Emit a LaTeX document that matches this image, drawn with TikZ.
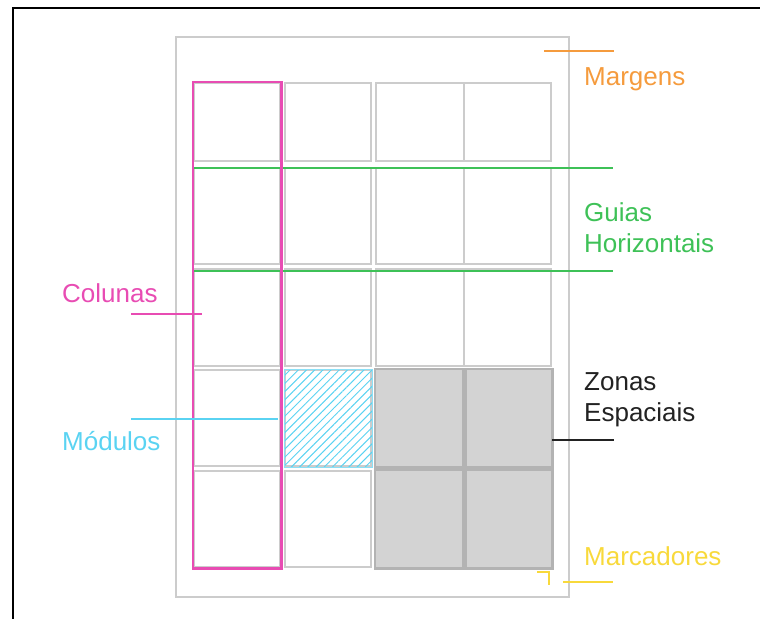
\documentclass[tikz,border=0pt]{standalone}
\usepackage{fontspec}
\setmainfont{Liberation Sans}
\usetikzlibrary{patterns.meta}
\definecolor{gridgray}{HTML}{CCCCCC}
\definecolor{zonefill}{HTML}{D3D3D3}
\definecolor{zonegray}{HTML}{B3B3B3}
\definecolor{colpink}{HTML}{E84CB3}
\definecolor{guidegreen}{HTML}{3EC157}
\definecolor{modcyan}{HTML}{5AD3F2}
\definecolor{margorange}{HTML}{F59B3D}
\definecolor{markyellow}{HTML}{F8D93B}
\definecolor{zonetext}{HTML}{222222}

\begin{document}
\begin{tikzpicture}[x=1pt,y=-1pt,
  font=\fontsize{26}{30.5}\selectfont,
  cell/.style={draw=gridgray, line width=2.4pt, anchor=north west, inner sep=0pt},
  zonecell/.style={draw=zonegray, line width=2.4pt},
  lead/.style={line width=2.4pt},
  lbl/.style={anchor=base west, inner sep=0pt, align=left}]
\useasboundingbox (0,0) rectangle (760,619);
% ----- frame of the cut page
\coordinate (fr-r) at (760,8);
\coordinate (fr-b) at (13,619);
\draw[line width=2pt] (fr-r) -| (fr-b);
% ----- page and grid
\node[cell, minimum width=393pt, minimum height=560pt] (page) at (175,36) {};
\foreach \x/\w [count=\i] in {193/86,284/86,375/88,463/87}
  \foreach \y/\h [count=\j] in {82/78,167/96,268/97,369/96,470/96}
    \node[cell, minimum width=\w pt, minimum height=\h pt] (c\j\i) at (\x,\y) {};
% ----- spatial zone
\fill[zonefill] (c43.north west) rectangle (c54.south east);
\foreach \n in {c43,c44,c53,c54}
  \draw[zonecell] (\n.north west) rectangle (\n.south east);
% ----- module
\draw[draw=modcyan!70, line width=1pt,
  pattern={Lines[angle=45, distance=5.8pt, line width=1pt]}, pattern color=modcyan]
  (c42.north west) rectangle (c42.south east);
% ----- horizontal guides
\coordinate (g1-a) at (193,168); \coordinate (g1-b) at (613,168);
\coordinate (g2-a) at (193,271); \coordinate (g2-b) at (613,271);
\draw[lead, guidegreen] (g1-a) -- (g1-b);
\draw[lead, guidegreen] (g2-a) -- (g2-b);
% ----- column
\draw[colpink, line width=2.4pt] (c11.north west) rectangle (c51.south east);
% ----- labels
\node[lbl, text=margorange] (margens) at (584,85) {Margens};
\node[lbl, text=guidegreen] (guias) at (584,252) {Guias\\Horizontais};
\node[lbl, text=colpink] (colunas) at (62,302) {Colunas};
\node[lbl, text=zonetext] (zonas) at (584,421) {Zonas\\Espaciais};
\node[lbl, text=modcyan] (modulos) at (62,450) {Módulos};
\node[lbl, text=markyellow] (marcadores) at (584,565) {Marcadores};
% ----- leader lines
\coordinate (m-a) at (544,51); \coordinate (m-b) at (614,51);
\draw[lead, margorange] (m-a) -- (m-b);
\coordinate (col-a) at (131,314); \coordinate (col-b) at (202,314);
\draw[lead, colpink] (col-a) -- (col-b);
\coordinate (mod-a) at (131,419); \coordinate (mod-b) at (278,419);
\draw[lead, modcyan] (mod-a) -- (mod-b);
\coordinate (z-a) at (c44.east|-0,440); \coordinate (z-b) at (614,440);
\draw[lead, zonetext] (z-a) -- (z-b);
\coordinate (mk-a) at (563,582); \coordinate (mk-b) at (613,582);
\draw[lead, markyellow] (mk-a) -- (mk-b);
\coordinate (mk-c) at (537,572); \coordinate (mk-d) at (549,585);
\draw[lead, markyellow] (mk-c) -| (mk-d);
\end{tikzpicture}
\end{document}
